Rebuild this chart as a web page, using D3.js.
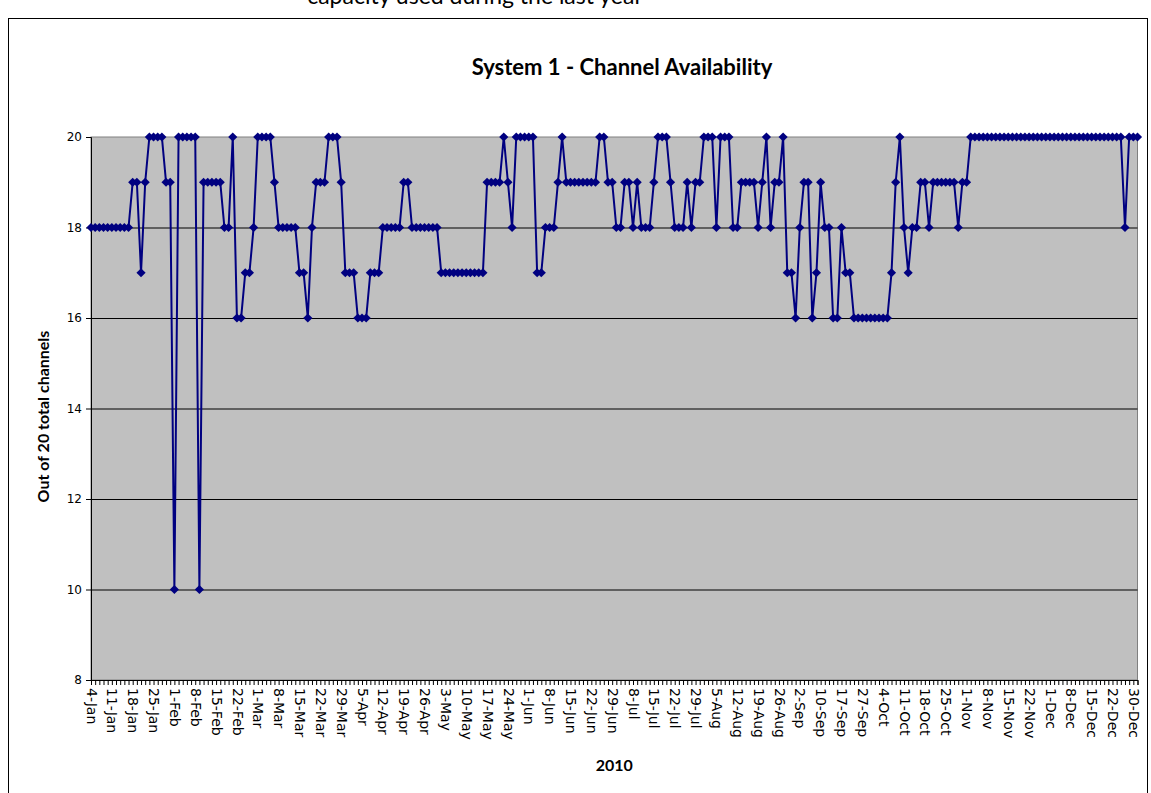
<!DOCTYPE html>
<meta charset="utf-8">
<script src="https://d3js.org/d3.v7.min.js"></script>
<style>
  body { margin: 0; background: #fff; overflow: hidden; }
</style>
<div id="chart"></div>
<script>
// labels shown on every 5th working day
var tickLabels = ["4-Jan","11-Jan","18-Jan","25-Jan","1-Feb","8-Feb","15-Feb","22-Feb",
  "1-Mar","8-Mar","15-Mar","22-Mar","29-Mar","5-Apr","12-Apr","19-Apr","26-Apr",
  "3-May","10-May","17-May","24-May","1-Jun","8-Jun","15-Jun","22-Jun","29-Jun",
  "8-Jul","15-Jul","22-Jul","29-Jul","5-Aug","12-Aug","19-Aug","26-Aug","2-Sep",
  "10-Sep","17-Sep","27-Sep","4-Oct","11-Oct","18-Oct","25-Oct","1-Nov","8-Nov",
  "15-Nov","22-Nov","1-Dec","8-Dec","15-Dec","22-Dec","30-Dec"];

// channels available, one value per working day
var channels = [
  18,18,18,18,18,18,18,18,18,18,
  19,19,17,19,20,20,20,20,19,19,
  10,20,20,20,20,20,10,19,19,19,
  19,19,18,18,20,16,16,17,17,18,
  20,20,20,20,19,18,18,18,18,18,
  17,17,16,18,19,19,19,20,20,20,
  19,17,17,17,16,16,16,17,17,17,
  18,18,18,18,18,19,19,18,18,18,
  18,18,18,18,17,17,17,17,17,17,
  17,17,17,17,17,19,19,19,19,20,
  19,18,20,20,20,20,20,17,17,18,
  18,18,19,20,19,19,19,19,19,19,
  19,19,20,20,19,19,18,18,19,19,
  18,19,18,18,18,19,20,20,20,19,
  18,18,18,19,18,19,19,20,20,20,
  18,20,20,20,18,18,19,19,19,19,
  18,19,20,18,19,19,20,17,17,16,
  18,19,19,16,17,19,18,18,16,16,
  18,17,17,16,16,16,16,16,16,16,
  16,16,17,19,20,18,17,18,18,19,
  19,18,19,19,19,19,19,19,18,19,
  19,20,20,20,20,20,20,20,20,20,
  20,20,20,20,20,20,20,20,20,20,
  20,20,20,20,20,20,20,20,20,20,
  20,20,20,20,20,20,20,20,18,20,
  20,20];

var yTicks = [8, 10, 12, 14, 16, 18, 20];

var W = 1151, H = 793;
var margin = { top: 137, right: 13.5, bottom: 113, left: 91 },
    width = W - margin.left - margin.right,
    height = H - margin.top - margin.bottom;

var svg = d3.select("#chart").append("svg")
    .attr("width", W)
    .attr("height", H);

// chart frame
svg.append("rect")
    .attr("x", 8.5).attr("y", 18.5)
    .attr("width", 1139).attr("height", 800)
    .attr("fill", "#fff").attr("stroke", "#000").attr("stroke-width", 1);

// caption above the chart, mostly scrolled out of view
svg.append("text")
    .attr("x", 475).attr("y", 4)
    .attr("text-anchor", "middle")
    .style("font-family", "Lato").style("font-size", "23px")
    .text("capacity used during the last year");

svg.append("text")
    .attr("x", 622).attr("y", 75)
    .attr("text-anchor", "middle")
    .style("font-family", "Lato").style("font-weight", "bold").style("font-size", "22px")
    .text("System 1 - Channel Availability");

var g = svg.append("g")
    .attr("transform", "translate(" + margin.left + "," + margin.top + ")");

var x = d3.scalePoint()
    .domain(d3.range(channels.length))
    .range([0, width]);

var y = d3.scaleLinear()
    .domain([8, 20])
    .range([height, 0]);

// plot area
g.append("rect")
    .attr("width", width).attr("height", height)
    .attr("fill", "#c0c0c0").attr("stroke", "#808080");

// gridlines
g.append("g")
    .call(d3.axisLeft(y).tickValues(yTicks.slice(1, -1)).tickSize(-width).tickFormat(""))
    .call(s => s.select(".domain").remove())
    .selectAll("line").attr("stroke", "#000");

// y axis
g.append("g")
    .call(d3.axisLeft(y).tickValues(yTicks).tickSize(5).tickPadding(4))
    .call(s => s.selectAll("text")
        .style("font-family", "DejaVu Sans").style("font-size", "12px").attr("fill", "#000"));

// x axis, a tick for every day
g.append("g")
    .attr("transform", "translate(0," + height + ")")
    .call(d3.axisBottom(x).tickSize(5)
        .tickFormat(i => i % 5 === 0 ? tickLabels[i / 5] : ""))
    .call(s => s.selectAll("text")
        .attr("transform", "rotate(90)")
        .attr("x", 8).attr("y", 0).attr("dy", "0.35em")
        .style("text-anchor", "start")
        .style("font-family", "DejaVu Sans").style("font-size", "14px"));

// axis titles
svg.append("text")
    .attr("transform", "translate(49," + (margin.top + height / 2 + 8) + ") rotate(-90)")
    .attr("text-anchor", "middle")
    .style("font-family", "Lato").style("font-weight", "bold").style("font-size", "16px")
    .text("Out of 20 total channels");

svg.append("text")
    .attr("x", margin.left + width / 2).attr("y", 771)
    .attr("text-anchor", "middle")
    .style("font-family", "Lato").style("font-weight", "bold").style("font-size", "16px")
    .text("2010");

// the series
var line = d3.line()
    .x((d, i) => x(i))
    .y(d => y(d));

g.append("path")
    .datum(channels)
    .attr("fill", "none")
    .attr("stroke", "#000080")
    .attr("stroke-width", 2)
    .attr("d", line);

g.selectAll(".pt")
    .data(channels)
    .enter().append("path")
    .attr("class", "pt")
    .attr("transform", (d, i) => "translate(" + x(i) + "," + y(d) + ") rotate(45)")
    .attr("d", d3.symbol().type(d3.symbolSquare).size(42))
    .attr("fill", "#000080");
</script>
